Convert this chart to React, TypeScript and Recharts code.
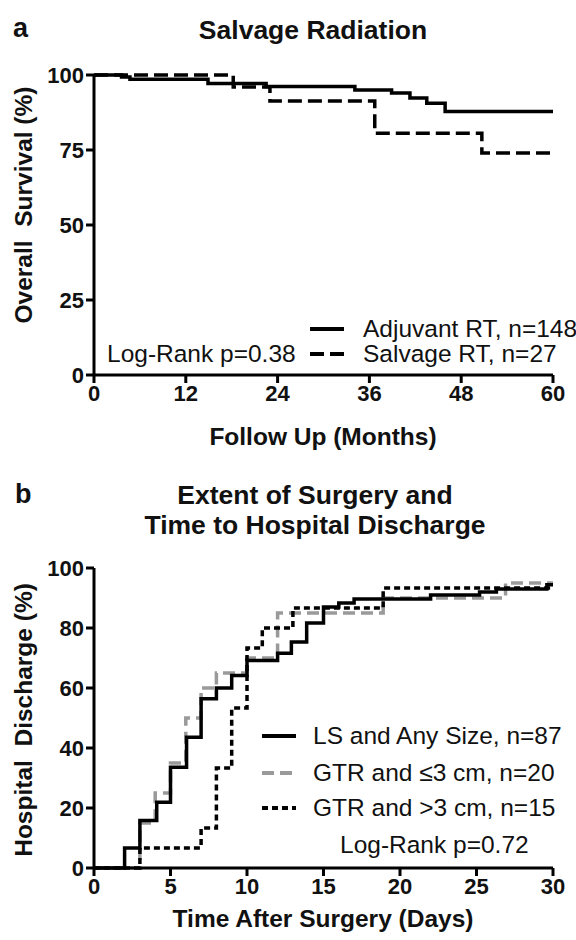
import React from 'react';
import { LineChart, Line, XAxis, YAxis } from 'recharts';

const FONT = '"Liberation Sans", Arial, Helvetica, sans-serif';

// ---------- Panel a : Salvage Radiation ----------
const adjuvantMonths = [0, 3.6, 4.7, 14.9, 22.5, 34.1, 38.9, 41.3, 43.5, 45.9, 60];
const adjuvantSurvival = [100, 99.3, 98.6, 97.2, 96.2, 95.0, 94.0, 92.3, 90.6, 87.8, 87.8];
const salvageMonths = [0, 18.2, 23.0, 36.7, 50.7, 60];
const salvageSurvival = [100, 96.0, 91.3, 80.6, 74.0, 74.0];
const monthTicks = [0, 12, 24, 36, 48, 60];
const survivalTicks = [0, 25, 50, 75, 100];

// ---------- Panel b : Time to Hospital Discharge ----------
const lsDays = [0, 2, 3, 4.1, 5, 6.05, 7, 8, 9, 10, 12, 12.9, 13.9, 15, 16, 17, 22, 25.2, 26.3, 29.6, 30];
const lsDischarge = [0, 6.7, 15.8, 21.9, 33.6, 43.6, 56.4, 60, 64.2, 69.2, 71.6, 75.3, 81.7, 87, 88.3, 89.7, 91, 92, 93, 94.4, 94.4];
const gtrSmallDays = [0, 3, 4, 5, 6, 7, 8, 10, 12, 18.9, 26.9, 30];
const gtrSmallDischarge = [0, 15, 25, 35, 50, 60, 65, 70, 85, 90, 95, 95];
const gtrLargeDays = [0, 3, 7, 8, 9, 10, 11, 13, 18.9, 30];
const gtrLargeDischarge = [0, 6.7, 13.3, 33.3, 53.3, 73.3, 80, 86.7, 93.3, 93.3];
const dayTicks = [0, 5, 10, 15, 20, 25, 30];
const dischargeTicks = [0, 20, 40, 60, 80, 100];

const toPoints = (xs: number[], ys: number[]) => xs.map((x, i) => ({ x, y: ys[i] }));

const tickStyle = { fill: '#111', fontSize: 22, fontWeight: 700, fontFamily: FONT };
const axisLine = { stroke: '#000', strokeWidth: 3 };
const AXIS_TITLE = 24.5;
const LEGEND_SIZE = 24.5;

const yTitle = (text: string, cx: number, cy: number) => () => (
  <text
    x={cx}
    y={cy}
    transform={`rotate(-90 ${cx} ${cy})`}
    textAnchor="middle"
    dominantBaseline="central"
    style={{ fontFamily: FONT, fontSize: AXIS_TITLE, fontWeight: 700, fill: '#111', whiteSpace: 'pre' }}
  >
    {text}
  </text>
);

const xTitle = (text: string, cx: number, cy: number) => () => (
  <text
    x={cx}
    y={cy}
    textAnchor="middle"
    dominantBaseline="central"
    style={{ fontFamily: FONT, fontSize: AXIS_TITLE, fontWeight: 700, fill: '#111' }}
  >
    {text}
  </text>
);

const abs = (style: React.CSSProperties): React.CSSProperties => ({
  position: 'absolute',
  fontFamily: FONT,
  color: '#111',
  whiteSpace: 'nowrap',
  lineHeight: 1,
  ...style,
});

const LegendRow = ({
  x, y, textX, label, stroke, dash,
}: { x: number; y: number; textX: number; label: string; stroke: string; dash?: string }) => (
  <>
    <svg style={{ position: 'absolute', left: x, top: y - 4 }} width={36} height={8}>
      <line x1={0} y1={4} x2={34} y2={4} stroke={stroke} strokeWidth={4} strokeDasharray={dash} />
    </svg>
    <div style={abs({ left: textX, top: y, transform: 'translateY(-50%)', fontSize: LEGEND_SIZE })}>{label}</div>
  </>
);

export default function App() {
  const adj = toPoints(adjuvantMonths, adjuvantSurvival);
  const sal = toPoints(salvageMonths, salvageSurvival);
  const ls = toPoints(lsDays, lsDischarge);
  const gs = toPoints(gtrSmallDays, gtrSmallDischarge);
  const gl = toPoints(gtrLargeDays, gtrLargeDischarge);

  return (
    <div style={{ position: 'absolute', left: 0, top: 0, width: 576, height: 940, background: '#fff', overflow: 'hidden' }}>
      {/* Panel a */}
      <div style={{ position: 'absolute', left: 0, top: 0 }}>
        <LineChart width={576} height={460} margin={{ top: 75, right: 23, bottom: 25, left: 34 }}>
          <XAxis
            type="number"
            dataKey="x"
            domain={[0, 60]}
            ticks={monthTicks}
            interval={0}
            tick={tickStyle}
            tickSize={8}
            height={60}
            axisLine={axisLine}
            tickLine={axisLine}
            label={xTitle('Follow Up (Months)', 323, 436)}
          />
          <YAxis
            type="number"
            dataKey="y"
            domain={[0, 100]}
            ticks={survivalTicks}
            interval={0}
            tick={tickStyle}
            tickSize={8}
            width={60}
            axisLine={axisLine}
            tickLine={axisLine}
            label={yTitle('Overall  Survival (%)', 23, 205)}
          />
          <Line data={adj} dataKey="y" type="stepAfter" stroke="#000" strokeWidth={3.5} dot={false} isAnimationActive={false} />
          <Line data={sal} dataKey="y" type="stepAfter" stroke="#000" strokeWidth={3.5} strokeDasharray="14 6" dot={false} isAnimationActive={false} />
        </LineChart>
      </div>
      <div style={abs({ left: 13, top: 28, transform: 'translateY(-50%)', fontSize: 27, fontWeight: 700 })}>a</div>
      <div style={abs({ left: 313, top: 30, transform: 'translate(-50%,-50%)', fontSize: 26.5, fontWeight: 700 })}>Salvage Radiation</div>
      <LegendRow x={310} y={329} textX={363} label="Adjuvant RT, n=148" stroke="#000" />
      <LegendRow x={310} y={354} textX={363} label="Salvage RT, n=27" stroke="#000" dash="14 6" />
      <div style={abs({ left: 107, top: 354, transform: 'translateY(-50%)', fontSize: LEGEND_SIZE })}>Log-Rank p=0.38</div>

      {/* Panel b */}
      <div style={{ position: 'absolute', left: 0, top: 460 }}>
        <LineChart width={576} height={480} margin={{ top: 108, right: 23, bottom: 12, left: 34 }}>
          <XAxis
            type="number"
            dataKey="x"
            domain={[0, 30]}
            ticks={dayTicks}
            interval={0}
            tick={tickStyle}
            tickSize={8}
            height={60}
            axisLine={axisLine}
            tickLine={axisLine}
            label={xTitle('Time After Surgery (Days)', 323, 458)}
          />
          <YAxis
            type="number"
            dataKey="y"
            domain={[0, 100]}
            ticks={dischargeTicks}
            interval={0}
            tick={tickStyle}
            tickSize={8}
            width={60}
            axisLine={axisLine}
            tickLine={axisLine}
            label={yTitle('Hospital  Discharge (%)', 23, 260)}
          />
          <Line data={gs} dataKey="y" type="stepAfter" stroke="#9a9a9a" strokeWidth={3.5} strokeDasharray="12 6" dot={false} isAnimationActive={false} />
          <Line data={ls} dataKey="y" type="stepAfter" stroke="#000" strokeWidth={3.5} dot={false} isAnimationActive={false} />
          <Line data={gl} dataKey="y" type="stepAfter" stroke="#000" strokeWidth={3.5} strokeDasharray="6 4" dot={false} isAnimationActive={false} />
        </LineChart>
      </div>
      <div style={abs({ left: 15, top: 494, transform: 'translateY(-50%)', fontSize: 27, fontWeight: 700 })}>b</div>
      <div style={abs({ left: 315, top: 495, transform: 'translate(-50%,-50%)', fontSize: 26.5, fontWeight: 700 })}>Extent of Surgery and</div>
      <div style={abs({ left: 315, top: 525, transform: 'translate(-50%,-50%)', fontSize: 26.5, fontWeight: 700 })}>Time to Hospital Discharge</div>
      <LegendRow x={262} y={736} textX={313} label="LS and Any Size, n=87" stroke="#000" />
      <LegendRow x={262} y={773} textX={313} label="GTR and ≤3 cm, n=20" stroke="#9a9a9a" dash="12 6" />
      <LegendRow x={262} y={808} textX={313} label="GTR and >3 cm, n=15" stroke="#000" dash="6 4" />
      <div style={abs({ left: 340, top: 845, transform: 'translateY(-50%)', fontSize: LEGEND_SIZE })}>Log-Rank p=0.72</div>
    </div>
  );
}
